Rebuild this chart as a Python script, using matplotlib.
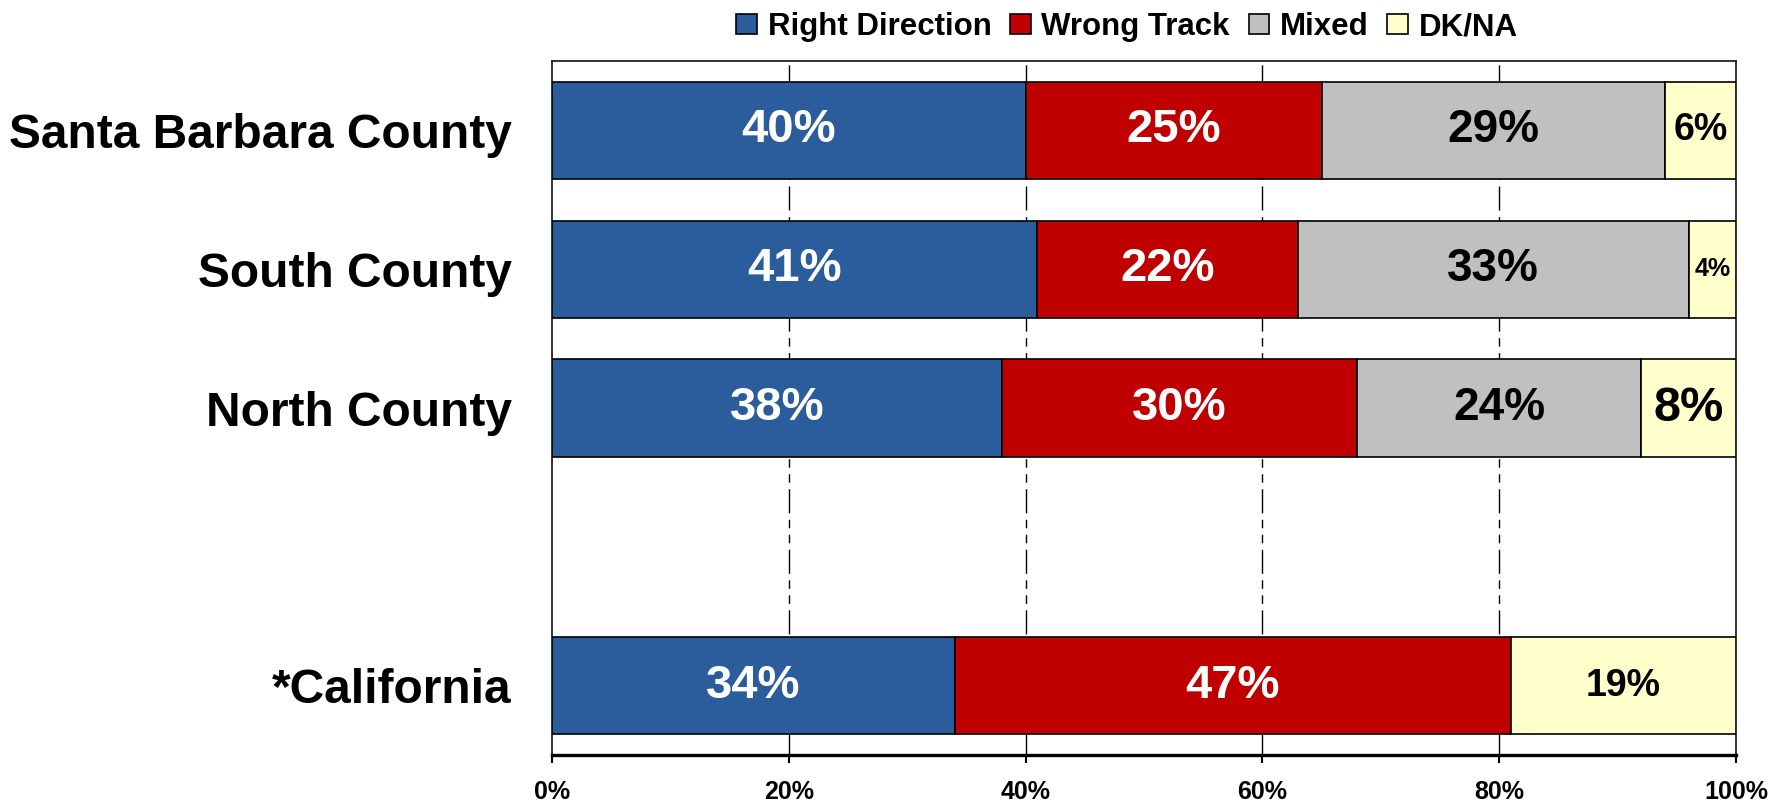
import matplotlib
matplotlib.use("Agg")
import matplotlib.pyplot as plt
from matplotlib.patches import Patch

# ---- data ----
categories = ["Santa Barbara County", "South County", "North County", "*California"]
series_names = ["Right Direction", "Wrong Track", "Mixed", "DK/NA"]
right_direction = [40, 41, 38, 34]
wrong_track = [25, 22, 30, 47]
mixed = [29, 33, 24, 0]
dk_na = [6, 4, 8, 19]
x_ticks = [0, 20, 40, 60, 80, 100]
x_tick_labels = ["0%", "20%", "40%", "60%", "80%", "100%"]

# ---- style ----
y_positions = [0, 1, 2, 4]
colors = ["#2B5C9B", "#C00000", "#C0C0C0", "#FFFFCC"]
text_colors = ["white", "white", "black", "black"]
label_sizes = [
    [34, 34, 33, 27],
    [34, 34, 33, 18],
    [34, 34, 33, 35],
    [34, 34, 33, 27],
]

plt.rcParams["font.family"] = ["Liberation Sans", "DejaVu Sans"]
plt.rcParams["font.weight"] = "bold"

fig = plt.figure(figsize=(17.73, 8.05), dpi=100)
ax = fig.add_axes([552 / 1773, 1 - 755 / 805, (1736 - 552) / 1773, (755 - 61) / 805])

series = [right_direction, wrong_track, mixed, dk_na]
n = len(categories)
left = [0] * n
for s_idx, vals in enumerate(series):
    ax.barh(y_positions, vals, left=left, height=0.70, color=colors[s_idx],
            edgecolor="black", linewidth=1.2, zorder=3)
    for c_idx, v in enumerate(vals):
        if v > 0:
            ax.text(left[c_idx] + v / 2, y_positions[c_idx], f"{v}%",
                    ha="center", va="center", color=text_colors[s_idx],
                    fontsize=label_sizes[c_idx][s_idx], fontweight="bold", zorder=4)
    left = [l + v for l, v in zip(left, vals)]

ax.set_xlim(0, 100)
ax.set_ylim(4.5, -0.5)

ax.set_yticks(y_positions)
ax.set_yticklabels(categories, fontsize=34.5, fontweight="bold")
ax.tick_params(axis="y", length=0, pad=29)

ax.set_xticks(x_ticks)
ax.set_xticklabels(x_tick_labels, fontsize=18, fontweight="bold")
ax.tick_params(axis="x", direction="out", length=6, width=1.5, pad=12, color="black")

# dash-dot-dot gridlines
for xv in x_ticks[1:-1]:
    ax.axvline(xv, color="black", linewidth=1.0,
               linestyle=(0, (17.3, 4.7, 6.1, 4.7, 6.1, 4.7)), zorder=1)

for side in ["top", "left", "right"]:
    ax.spines[side].set_linewidth(1.3)
    ax.spines[side].set_color("#222222")
ax.spines["bottom"].set_linewidth(2.4)
ax.spines["bottom"].set_color("black")

handles = [Patch(facecolor=colors[i], edgecolor="black", linewidth=1.2, label=series_names[i])
           for i in range(4)]
fig.legend(handles=handles, loc="center", bbox_to_anchor=(1127 / 1773, 1 - 27 / 805),
           ncol=4, frameon=False, prop={"size": 22.5, "weight": "bold"},
           handlelength=0.65, handleheight=0.65, handletextpad=0.35,
           columnspacing=0.6, borderpad=0, borderaxespad=0)

fig.savefig("out.png", dpi=100)
